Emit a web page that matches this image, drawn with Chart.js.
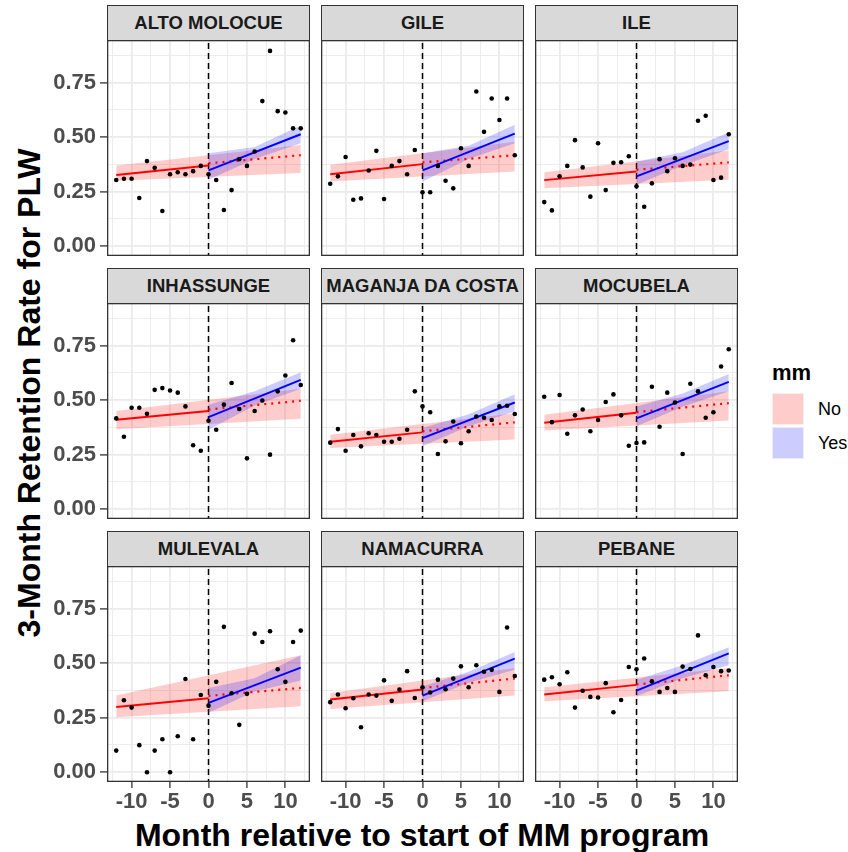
<!DOCTYPE html>
<html>
<head>
<meta charset="utf-8">
<script src="https://cdn.jsdelivr.net/npm/chart.js@4.4.1/dist/chart.umd.min.js"></script>
<style>
  body { margin: 0; background: #fff; width: 848px; height: 852px; position: relative; overflow: hidden;
         font-family: "Liberation Sans", Arial, sans-serif; }
  canvas { position: absolute; }
  .strip { position: absolute; background: #D9D9D9; border: 1.3px solid #333; box-sizing: border-box;
           font-weight: bold; font-size: 18.5px; color: #1A1A1A; display: flex; align-items: center;
           justify-content: center; white-space: nowrap; }
  .axis-title { position: absolute; font-weight: bold; font-size: 32px; color: #000; white-space: nowrap; }
  #ytitle { left: 29px; top: 393px; transform: translate(-50%, -50%) rotate(-90deg); }
  #xtitle { left: 422px; top: 835px; transform: translate(-50%, -50%); }
  #legend { position: absolute; left: 772px; top: 358px; }
  #legend .title { font-weight: bold; font-size: 22px; color: #000; height: 34px; line-height: 30px; }
  #legend .row { display: flex; align-items: center; height: 34px; }
  #legend .key { width: 32px; height: 32px; margin-right: 14px; box-sizing: border-box; border: 1px solid rgba(255,255,255,0.6); }
  #legend .lab { font-size: 18px; color: #000; }
</style>
</head>
<body>
<div id="ytitle" class="axis-title">3-Month Retention Rate for PLW</div>
<div id="xtitle" class="axis-title">Month relative to start of MM program</div>
<div id="legend"></div>

<script>
// Facet order: read row by row
const districts = ['ALTO MOLOCUE', 'GILE', 'ILE', 'INHASSUNGE', 'MAGANJA DA COSTA',
                   'MOCUBELA', 'MULEVALA', 'NAMACURRA', 'PEBANE'];

const months = [-12, -11, -10, -9, -8, -7, -6, -5, -4, -3, -2, -1, 0,
                1, 2, 3, 4, 5, 6, 7, 8, 9, 10, 11, 12];

// Monthly 3-month retention rate, one row per district
const retention = [
  [0.303, 0.309, 0.309, 0.221, 0.390, 0.359, 0.161, 0.330, 0.339, 0.330, 0.344, 0.368, 0.330,
   0.303, 0.166, 0.257, 0.399, 0.368, 0.434, 0.665, 0.895, 0.619, 0.613, 0.540, 0.540],
  [0.286, 0.320, 0.409, 0.213, 0.219, 0.347, 0.437, 0.216, 0.368, 0.390, 0.330, 0.441, 0.247,
   0.247, 0.368, 0.300, 0.265, 0.449, 0.368, 0.709, 0.524, 0.677, 0.578, 0.677, 0.417],
  [0.202, 0.164, 0.320, 0.368, 0.486, 0.361, 0.227, 0.472, 0.257, 0.382, 0.385, 0.412, 0.275,
   0.181, 0.288, 0.399, 0.344, 0.403, 0.368, 0.374, 0.575, 0.598, 0.303, 0.314, 0.513],
  [0.416, 0.332, 0.465, 0.465, 0.437, 0.547, 0.555, 0.544, 0.534, 0.471, 0.293, 0.268, 0.405,
   0.364, 0.479, 0.578, 0.459, 0.233, 0.450, 0.498, 0.250, 0.540, 0.613, 0.774, 0.569],
  [0.305, 0.367, 0.268, 0.340, 0.288, 0.348, 0.340, 0.309, 0.309, 0.323, 0.364, 0.540, 0.471,
   0.444, 0.253, 0.311, 0.402, 0.302, 0.357, 0.425, 0.419, 0.409, 0.471, 0.474, 0.436],
  [0.515, 0.399, 0.523, 0.346, 0.430, 0.457, 0.357, 0.409, 0.491, 0.526, 0.430, 0.291, 0.303,
   0.306, 0.561, 0.378, 0.534, 0.489, 0.253, 0.575, 0.540, 0.419, 0.444, 0.654, 0.733],
  [0.099, 0.330, 0.296, 0.124, 0.000, 0.099, 0.151, 0.000, 0.165, 0.427, 0.151, 0.354, 0.305,
   0.414, 0.666, 0.362, 0.217, 0.359, 0.635, 0.597, 0.646, 0.472, 0.414, 0.597, 0.649],
  [0.321, 0.356, 0.293, 0.339, 0.206, 0.356, 0.351, 0.421, 0.327, 0.379, 0.463, 0.340, 0.389,
   0.365, 0.424, 0.380, 0.429, 0.485, 0.389, 0.490, 0.460, 0.469, 0.368, 0.663, 0.441],
  [0.424, 0.435, 0.403, 0.458, 0.296, 0.373, 0.345, 0.342, 0.408, 0.275, 0.331, 0.482, 0.472,
   0.521, 0.417, 0.368, 0.386, 0.368, 0.484, 0.473, 0.627, 0.444, 0.482, 0.463, 0.466]
];

// Pre-program fit (mm = No), evaluated at preMonths
const preMonths = [-12, 0];
const preFit = [
  [0.326, 0.370], [0.330, 0.376], [0.303, 0.342], [0.410, 0.450], [0.309, 0.352],
  [0.396, 0.442], [0.299, 0.339], [0.333, 0.379], [0.356, 0.400]
];

// Pre-program trend projected past the start (dotted), at postMonths
const postMonths = [0, 12];
const projected = [
  [0.380, 0.417], [0.384, 0.417], [0.350, 0.384], [0.457, 0.497], [0.357, 0.398],
  [0.445, 0.486], [0.350, 0.386], [0.386, 0.429], [0.402, 0.444]
];

// Interval for the mm = No model, at bandMonths
const bandMonths = [-12, 12];
const noLow = [
  [0.300, 0.335], [0.297, 0.342], [0.266, 0.304], [0.366, 0.415], [0.280, 0.319],
  [0.361, 0.407], [0.252, 0.302], [0.290, 0.351], [0.325, 0.371]
];
const noHigh = [
  [0.370, 0.464], [0.373, 0.479], [0.339, 0.438], [0.450, 0.552], [0.341, 0.440],
  [0.433, 0.540], [0.351, 0.536], [0.363, 0.478], [0.389, 0.478]
];

// Post-program fit (mm = Yes), at postMonths
const postFit = [
  [0.347, 0.513], [0.347, 0.516], [0.320, 0.482], [0.422, 0.593], [0.326, 0.489],
  [0.416, 0.584], [0.318, 0.479], [0.351, 0.521], [0.374, 0.544]
];

// Interval for the mm = Yes model, at yesBandMonths
const yesBandMonths = [0, 6, 12];
const yesLow = [
  [0.304, 0.400, 0.472], [0.297, 0.400, 0.472], [0.282, 0.370, 0.444], [0.364, 0.475, 0.552],
  [0.288, 0.380, 0.448], [0.380, 0.470, 0.540], [0.272, 0.370, 0.420], [0.325, 0.410, 0.470],
  [0.348, 0.430, 0.490]
];
const yesHigh = [
  [0.426, 0.455, 0.553], [0.426, 0.460, 0.556], [0.388, 0.430, 0.522], [0.479, 0.540, 0.628],
  [0.372, 0.435, 0.527], [0.471, 0.530, 0.620], [0.386, 0.430, 0.536], [0.394, 0.460, 0.551],
  [0.424, 0.490, 0.573]
];

const programStart = 0;
const groups = ['No', 'Yes'];

const xTickValues = [-10, -5, 0, 5, 10];
const xMinorValues = [-12.5, -7.5, -2.5, 2.5, 7.5, 12.5];
const yTickValues = [0, 0.25, 0.5, 0.75];
const yTickLabels = ['0.00', '0.25', '0.50', '0.75'];
const yMinorValues = [0.125, 0.375, 0.625, 0.875];

// ---- layout of the facet grid ----
const colLeft = [107, 321, 535];
const rowTop = [40, 303, 566];
const plotW = 203, plotH = 216, stripH = 35;
const yAxisW = 107, xAxisH = 44;

const RED = '#FF0000', BLUE = '#0000FF';
const RED_FILL = 'rgba(255,0,0,0.2)', BLUE_FILL = 'rgba(0,0,255,0.2)';
const GRID = '#EBEBEB', FRAME = '#333333', TICK_TEXT = '#4D4D4D';
const tickFont = { family: '"Liberation Sans", Arial, sans-serif', size: 22, weight: 'bold' };

const pairs = (xs, ys) => xs.map((x, i) => ({ x, y: ys[i] }));

// Dashed programme-start line under the data, panel border on top
const panelFrame = {
  id: 'panelFrame',
  beforeDatasetsDraw(chart) {
    const { ctx, chartArea: a, scales: { x } } = chart;
    const px = x.getPixelForValue(programStart);
    ctx.save();
    ctx.setLineDash([6, 4]);
    ctx.lineWidth = 1.5;
    ctx.strokeStyle = '#000';
    ctx.beginPath();
    ctx.moveTo(px, a.top + 3);
    ctx.lineTo(px, a.bottom);
    ctx.stroke();
    ctx.restore();
  },
  afterDraw(chart) {
    const { ctx, chartArea: a } = chart;
    ctx.save();
    ctx.lineWidth = 1.3;
    ctx.strokeStyle = FRAME;
    ctx.strokeRect(a.left + 0.65, a.top + 0.65, a.right - a.left - 1.3, a.bottom - a.top - 1.3);
    ctx.restore();
  }
};

function noPadding(s) {
  s.paddingLeft = s.paddingRight = s.paddingTop = s.paddingBottom = 0;
}

districts.forEach((name, i) => {
  const row = Math.floor(i / 3), col = i % 3;
  const isLeft = col === 0, isBottom = row === 2;
  const padL = isLeft ? yAxisW : 0;
  const padB = isBottom ? xAxisH : 0;

  const strip = document.createElement('div');
  strip.className = 'strip';
  strip.textContent = name;
  Object.assign(strip.style, {
    left: colLeft[col] + 'px', top: (rowTop[row] - stripH) + 'px',
    width: plotW + 'px', height: (stripH + 1) + 'px'
  });
  document.body.appendChild(strip);

  const canvas = document.createElement('canvas');
  canvas.width = plotW + padL;
  canvas.height = plotH + padB;
  canvas.style.left = (colLeft[col] - padL) + 'px';
  canvas.style.top = rowTop[row] + 'px';
  canvas.style.width = canvas.width + 'px';
  canvas.style.height = canvas.height + 'px';
  document.body.appendChild(canvas);

  const line = (data, color, extra) => Object.assign({
    data, borderColor: color, borderWidth: 1.9, pointRadius: 0, fill: false, tension: 0
  }, extra || {});

  const datasets = [
    // drawn last (on top): observed months
    { data: pairs(months, retention[i]), showLine: false, pointRadius: 2.3,
      pointBackgroundColor: '#000', pointBorderWidth: 0 },
    line(pairs(postMonths, postFit[i]), BLUE),
    line(pairs(postMonths, projected[i]), RED, { borderDash: [2, 5], borderWidth: 2.2 }),
    line(pairs(preMonths, preFit[i]), RED),
    line(pairs(yesBandMonths, yesHigh[i]), 'transparent', { borderWidth: 0, fill: '+1', backgroundColor: BLUE_FILL }),
    line(pairs(yesBandMonths, yesLow[i]), 'transparent', { borderWidth: 0 }),
    line(pairs(bandMonths, noHigh[i]), 'transparent', { borderWidth: 0, fill: '+1', backgroundColor: RED_FILL }),
    line(pairs(bandMonths, noLow[i]), 'transparent', { borderWidth: 0 })
  ];

  new Chart(canvas, {
    type: 'line',
    data: { datasets },
    plugins: [panelFrame],
    options: {
      responsive: false, animation: false, events: [],
      layout: { padding: 0, autoPadding: false },
      plugins: { legend: { display: false }, tooltip: { enabled: false } },
      scales: {
        x: {
          type: 'linear', min: -13.2, max: 13.2,
          afterBuildTicks: s => { s.ticks = xMinorValues.concat(xTickValues).sort((a, b) => a - b).map(v => ({ value: v })); },
          afterFit: s => { s.height = padB; noPadding(s); },
          border: { display: false },
          grid: {
            color: GRID,
            lineWidth: c => xTickValues.includes(c.tick.value) ? 1.8 : 0.9,
            drawTicks: isBottom, tickLength: 6, tickWidth: 1.3,
            tickColor: c => xTickValues.includes(c.tick.value) ? FRAME : 'rgba(0,0,0,0)'
          },
          ticks: {
            display: isBottom, autoSkip: false, maxRotation: 0, minRotation: 0, padding: 1,
            font: tickFont, color: TICK_TEXT,
            callback: v => xTickValues.includes(v) ? String(v) : ''
          }
        },
        y: {
          type: 'linear', min: -0.045, max: 0.945,
          afterBuildTicks: s => { s.ticks = yMinorValues.concat(yTickValues).sort((a, b) => a - b).map(v => ({ value: v })); },
          afterFit: s => { s.width = padL; noPadding(s); },
          border: { display: false },
          grid: {
            color: GRID,
            lineWidth: c => yTickValues.includes(c.tick.value) ? 1.8 : 0.9,
            drawTicks: isLeft, tickLength: 7, tickWidth: 1.3,
            tickColor: c => yTickValues.includes(c.tick.value) ? FRAME : 'rgba(0,0,0,0)'
          },
          ticks: {
            display: isLeft, autoSkip: false, padding: 4,
            font: tickFont, color: TICK_TEXT,
            callback: v => { const k = yTickValues.indexOf(v); return k >= 0 ? yTickLabels[k] : ''; }
          }
        }
      }
    }
  });
});

// Legend for the mm fill
const legend = document.getElementById('legend');
legend.innerHTML = '<div class="title">mm</div>' + groups.map((g, k) =>
  `<div class="row"><div class="key" style="background:${k ? '#CCCCFF' : '#FFCCCC'}"></div><div class="lab">${g}</div></div>`
).join('');
</script>
</body>
</html>
